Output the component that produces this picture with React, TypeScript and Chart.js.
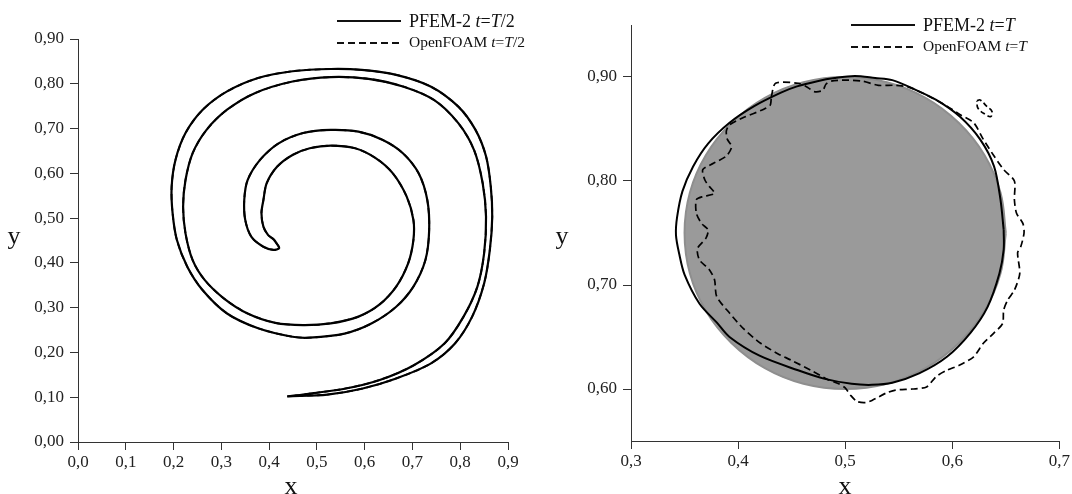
import React, { useEffect, useRef } from 'react';
import { Chart, registerables } from 'chart.js';

Chart.register(...registerables);

const FONT = '"Liberation Serif", "Times New Roman", serif';

// ---------- Left panel: t = T/2 (spiral filament, closed contour) ----------
const spiralX = [
  0.438, 0.522, 0.594, 0.666, 0.738, 0.789, 0.825, 0.850, 0.862, 0.867, 0.864, 0.854, 0.832, 0.796, 0.738, 0.666, 0.594,
  0.529, 0.449, 0.377, 0.312, 0.261, 0.225, 0.204, 0.196, 0.198, 0.207, 0.229, 0.261, 0.312, 0.377, 0.449, 0.485, 0.558,
  0.615, 0.666, 0.702, 0.727, 0.735, 0.731, 0.713, 0.680, 0.637, 0.587, 0.529, 0.471, 0.420, 0.381, 0.355, 0.348, 0.350,
  0.363, 0.388, 0.409, 0.421, 0.416,
  0.409, 0.398, 0.388, 0.384, 0.388, 0.395, 0.417, 0.449, 0.485, 0.529, 0.580, 0.623, 0.659, 0.688, 0.702, 0.702, 0.691,
  0.666, 0.630, 0.587, 0.529, 0.471, 0.413, 0.355, 0.305, 0.265, 0.240, 0.225, 0.220, 0.225, 0.240, 0.269, 0.312, 0.370,
  0.449, 0.529, 0.608, 0.680, 0.745, 0.796, 0.829, 0.847, 0.854, 0.850, 0.836, 0.807, 0.767, 0.702, 0.630, 0.558, 0.485,
  0.457, 0.438,
];
const spiralY = [
  0.102, 0.106, 0.119, 0.142, 0.175, 0.220, 0.280, 0.354, 0.429, 0.503, 0.570, 0.638, 0.697, 0.749, 0.794, 0.820, 0.831,
  0.833, 0.828, 0.813, 0.783, 0.742, 0.690, 0.630, 0.570, 0.511, 0.451, 0.391, 0.339, 0.287, 0.254, 0.235, 0.233, 0.242,
  0.265, 0.302, 0.347, 0.406, 0.473, 0.541, 0.600, 0.645, 0.675, 0.693, 0.697, 0.690, 0.667, 0.630, 0.585, 0.541, 0.496,
  0.458, 0.436, 0.429, 0.433, 0.443,
  0.453, 0.462, 0.481, 0.511, 0.540, 0.578, 0.615, 0.641, 0.656, 0.662, 0.656, 0.634, 0.600, 0.548, 0.496, 0.451, 0.399,
  0.347, 0.306, 0.280, 0.265, 0.261, 0.266, 0.287, 0.321, 0.362, 0.406, 0.466, 0.526, 0.585, 0.645, 0.697, 0.742, 0.779,
  0.805, 0.815, 0.811, 0.794, 0.764, 0.712, 0.652, 0.578, 0.503, 0.421, 0.347, 0.280, 0.220, 0.171, 0.138, 0.119, 0.108,
  0.104, 0.102,
];

const LEFT_X_TICKS = [0, 0.1, 0.2, 0.3, 0.4, 0.5, 0.6, 0.7, 0.8, 0.9];
const LEFT_Y_TICKS = [0, 0.1, 0.2, 0.3, 0.4, 0.5, 0.6, 0.7, 0.8, 0.9];

// ---------- Right panel: t = T ----------
const circleX = [
  0.650, 0.645, 0.630, 0.606, 0.575, 0.539, 0.500, 0.461, 0.425, 0.394, 0.370, 0.355, 0.350, 0.355, 0.370, 0.394, 0.425,
  0.461, 0.500, 0.539, 0.575, 0.606, 0.630, 0.645, 0.650,
];
const circleY = [
  0.750, 0.789, 0.825, 0.856, 0.880, 0.895, 0.900, 0.895, 0.880, 0.856, 0.825, 0.789, 0.750, 0.711, 0.675, 0.644, 0.620,
  0.605, 0.600, 0.605, 0.620, 0.644, 0.675, 0.711, 0.750,
];

const pfemTX = [
  0.648, 0.645, 0.639, 0.626, 0.607, 0.585, 0.563, 0.544, 0.528, 0.509, 0.490, 0.474, 0.455, 0.440, 0.415, 0.392, 0.372,
  0.358, 0.348, 0.343, 0.342, 0.345, 0.350, 0.364, 0.380, 0.392, 0.420, 0.456, 0.480, 0.506, 0.525, 0.544, 0.569, 0.595,
  0.617, 0.633, 0.644, 0.648, 0.648,
];
const pfemTY = [
  0.753, 0.782, 0.814, 0.840, 0.862, 0.878, 0.889, 0.897, 0.899, 0.901, 0.899, 0.896, 0.891, 0.885, 0.872, 0.856, 0.836,
  0.814, 0.790, 0.765, 0.748, 0.730, 0.710, 0.682, 0.664, 0.650, 0.632, 0.618, 0.610, 0.605, 0.604, 0.606, 0.615, 0.631,
  0.654, 0.679, 0.711, 0.734, 0.753,
];

const foamTX = [
  0.431, 0.435, 0.456, 0.465, 0.471, 0.479, 0.482, 0.487, 0.500, 0.516, 0.531, 0.547, 0.560, 0.579, 0.595, 0.607, 0.620,
  0.629, 0.639, 0.648, 0.658, 0.658, 0.660, 0.666, 0.667, 0.664, 0.661, 0.663, 0.658, 0.652, 0.648, 0.647, 0.639, 0.629,
  0.620, 0.607, 0.595, 0.585, 0.576, 0.563, 0.547, 0.538, 0.525, 0.519, 0.511, 0.505, 0.500, 0.494, 0.484, 0.468, 0.449,
  0.437, 0.421, 0.405, 0.392, 0.380, 0.378, 0.373, 0.364, 0.362, 0.370, 0.372, 0.366, 0.361, 0.361, 0.367, 0.378, 0.373,
  0.369, 0.367, 0.377, 0.389, 0.394, 0.390, 0.389, 0.392, 0.405, 0.424, 0.430, 0.431,
];
const foamTY = [
  0.881, 0.894, 0.894, 0.890, 0.886, 0.887, 0.893, 0.896, 0.897, 0.896, 0.892, 0.892, 0.890, 0.881, 0.872, 0.864, 0.856,
  0.840, 0.824, 0.811, 0.800, 0.782, 0.769, 0.759, 0.750, 0.737, 0.731, 0.711, 0.695, 0.686, 0.676, 0.663, 0.654, 0.644,
  0.631, 0.623, 0.618, 0.612, 0.602, 0.600, 0.599, 0.596, 0.589, 0.587, 0.588, 0.594, 0.601, 0.605, 0.609, 0.618, 0.628,
  0.634, 0.644, 0.658, 0.673, 0.689, 0.705, 0.715, 0.724, 0.735, 0.745, 0.753, 0.759, 0.769, 0.782, 0.785, 0.788, 0.795,
  0.801, 0.811, 0.817, 0.824, 0.833, 0.840, 0.848, 0.854, 0.861, 0.869, 0.873, 0.881,
];

// small detached OpenFOAM droplet
const blobX = [0.623, 0.626, 0.632, 0.637, 0.636, 0.631, 0.624, 0.623];
const blobY = [0.877, 0.878, 0.872, 0.867, 0.862, 0.864, 0.870, 0.877];

const RIGHT_X_TICKS = [0.3, 0.4, 0.5, 0.6, 0.7];
const RIGHT_Y_TICKS = [0.6, 0.7, 0.8, 0.9];

const LEFT_LEGEND = [
  [['PFEM-2 ', false], ['t', true], ['=', false], ['T', true], ['/2', false]],
  [['OpenFOAM ', false], ['t', true], ['=', false], ['T', true], ['/2', false]],
];
const RIGHT_LEGEND = [
  [['PFEM-2 ', false], ['t', true], ['=', false], ['T', true]],
  [['OpenFOAM ', false], ['t', true], ['=', false], ['T', true]],
];

const pts = (xs: number[], ys: number[]) => xs.map((x, i) => ({ x, y: ys[i] }));

type Parts = (string | boolean)[][];

function drawRich(ctx: CanvasRenderingContext2D, parts: Parts, x: number, y: number, size: number) {
  let cx = x;
  for (const [t, it] of parts) {
    ctx.font = `${it ? 'italic ' : ''}${size}px ${FONT}`;
    ctx.fillText(t as string, cx, y);
    cx += ctx.measureText(t as string).width;
  }
}

function makeAnnot(cfg: any) {
  return {
    id: 'annot',
    afterDraw(chart: any) {
      const ctx: CanvasRenderingContext2D = chart.ctx;
      ctx.save();
      ctx.fillStyle = '#111';
      ctx.strokeStyle = '#111';
      ctx.textBaseline = 'alphabetic';
      ctx.textAlign = 'left';
      // legend line 1 (solid)
      ctx.lineWidth = 2;
      ctx.setLineDash([]);
      ctx.beginPath();
      ctx.moveTo(cfg.lx0, cfg.ly1);
      ctx.lineTo(cfg.lx1, cfg.ly1);
      ctx.stroke();
      drawRich(ctx, cfg.legend[0], cfg.tx, cfg.tb1, 18);
      // legend line 2 (dashed)
      ctx.setLineDash([7, 4]);
      ctx.beginPath();
      ctx.moveTo(cfg.lx0, cfg.ly2);
      ctx.lineTo(cfg.lx1, cfg.ly2);
      ctx.stroke();
      ctx.setLineDash([]);
      drawRich(ctx, cfg.legend[1], cfg.tx, cfg.tb2, 15.5);
      // axis titles
      ctx.font = `26px ${FONT}`;
      ctx.textAlign = 'center';
      ctx.textBaseline = 'middle';
      ctx.fillText('x', cfg.xt[0], cfg.xt[1]);
      ctx.fillText('y', cfg.yt[0], cfg.yt[1]);
      ctx.restore();
    },
  };
}

function axis(min: number, max: number, tickVals: number[], dec: number, fit: (s: any) => void) {
  return {
    type: 'linear',
    min,
    max,
    afterBuildTicks: (s: any) => {
      s.ticks = tickVals.map((v) => ({ value: v }));
    },
    afterFit: fit,
    grid: { drawOnChartArea: false, drawTicks: true, tickLength: 8, color: '#333', lineWidth: 1 },
    border: { display: true, color: '#333', width: 1 },
    ticks: {
      autoSkip: false,
      maxRotation: 0,
      padding: 0,
      color: '#222',
      font: { family: FONT, size: 17 },
      callback: (v: any) => Number(v).toFixed(dec).replace('.', ','),
    },
  };
}

function LeftChart() {
  const ref = useRef<HTMLCanvasElement>(null);
  useEffect(() => {
    const data = pts(spiralX, spiralY);
    const xA: any = axis(0, 0.9, LEFT_X_TICKS, 1, (s: any) => { s.height = 52; });
    xA.ticks.padding = 2;
    const yA: any = axis(0, 0.9, LEFT_Y_TICKS, 2, (s: any) => { s.width = 78; });
    yA.ticks.padding = 6;
    const chart = new Chart(ref.current!, {
      type: 'scatter',
      data: {
        datasets: [
          { label: 'OpenFOAM t=T/2', data, showLine: true, borderColor: '#000', borderWidth: 1.8, borderDash: [6, 4], pointRadius: 0, tension: 0.3, fill: false },
          { label: 'PFEM-2 t=T/2', data, showLine: true, borderColor: '#000', borderWidth: 2.2, pointRadius: 0, tension: 0.3, fill: false },
        ],
      },
      options: {
        responsive: false,
        animation: false,
        layout: { padding: { top: 39, right: 32, left: 0, bottom: 0 } },
        plugins: { legend: { display: false }, tooltip: { enabled: false } },
        scales: { x: xA, y: yA },
      } as any,
      plugins: [
        makeAnnot({ legend: LEFT_LEGEND, lx0: 337, lx1: 401, ly1: 21, ly2: 43, tx: 409, tb1: 27, tb2: 47, xt: [291, 487], yt: [14, 237] }),
      ],
    } as any);
    return () => chart.destroy();
  }, []);
  return <canvas ref={ref} width={540} height={494} style={{ position: 'absolute', left: 0, top: 0, width: 540, height: 494 }} />;
}

function RightChart() {
  const ref = useRef<HTMLCanvasElement>(null);
  useEffect(() => {
    const xA: any = axis(0.3, 0.7, RIGHT_X_TICKS, 1, (s: any) => { s.height = 53; });
    xA.ticks.padding = 2;
    const yA: any = axis(0.55, 0.95, RIGHT_Y_TICKS, 2, (s: any) => { s.width = 91; });
    yA.ticks.padding = 6;
    const chart = new Chart(ref.current!, {
      type: 'scatter',
      data: {
        datasets: [
          { label: 'OpenFOAM t=T', data: pts(foamTX, foamTY), showLine: true, borderColor: '#000', borderWidth: 1.7, borderDash: [7, 4], pointRadius: 0, tension: 0.25, fill: false, order: 0 },
          { label: 'OpenFOAM droplet', data: pts(blobX, blobY), showLine: true, borderColor: '#000', borderWidth: 1.7, borderDash: [5, 3], pointRadius: 0, tension: 0.4, fill: false, order: 0 },
          { label: 'PFEM-2 t=T', data: pts(pfemTX, pfemTY), showLine: true, borderColor: '#000', borderWidth: 2, pointRadius: 0, tension: 0.3, fill: false, order: 1 },
          { label: 'Initial', data: pts(circleX, circleY), showLine: true, borderColor: '#8e8e8e', borderWidth: 2, backgroundColor: '#9a9a9a', pointRadius: 0, tension: 0.4, fill: 'shape', order: 2 },
        ],
      },
      options: {
        responsive: false,
        animation: false,
        layout: { padding: { top: 25, right: 12, left: 0, bottom: 0 } },
        plugins: { legend: { display: false }, tooltip: { enabled: false } },
        scales: { x: xA, y: yA },
      } as any,
      plugins: [
        makeAnnot({ legend: RIGHT_LEGEND, lx0: 311, lx1: 375, ly1: 25, ly2: 47, tx: 383, tb1: 31, tb2: 51, xt: [305, 487], yt: [22, 237] }),
      ],
    } as any);
    return () => chart.destroy();
  }, []);
  return <canvas ref={ref} width={532} height={494} style={{ position: 'absolute', left: 540, top: 0, width: 532, height: 494 }} />;
}

export default function App() {
  return (
    <div style={{ position: 'absolute', left: 0, top: 0, width: 1072, height: 494, background: '#fff', overflow: 'hidden' }}>
      <LeftChart />
      <RightChart />
    </div>
  );
}
